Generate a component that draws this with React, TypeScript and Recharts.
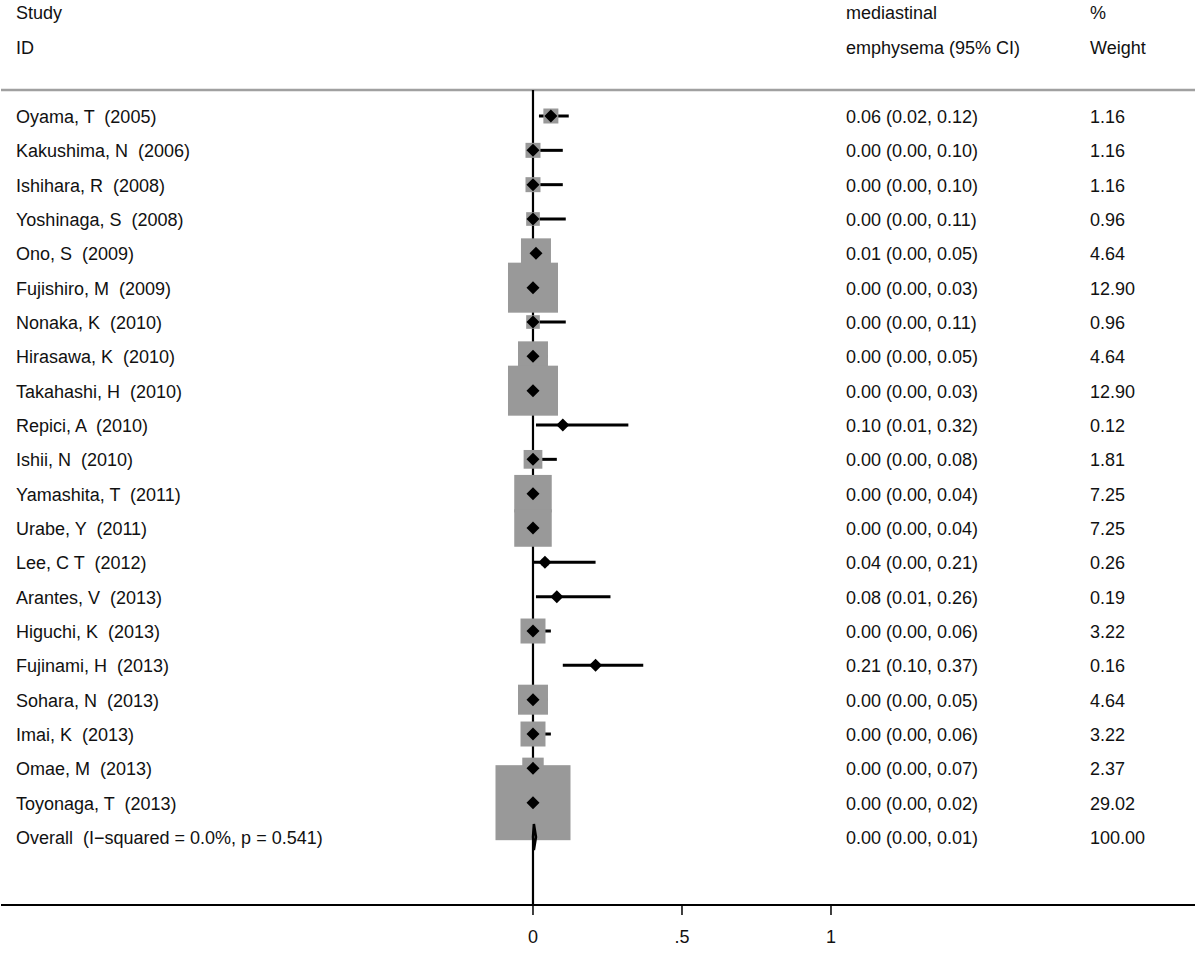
import React from 'react';
import {
  ComposedChart,
  Scatter,
  XAxis,
  YAxis,
  ZAxis,
  ErrorBar,
  ReferenceLine,
} from 'recharts';

// studies, top to bottom
const studies = [
  'Oyama, T  (2005)',
  'Kakushima, N  (2006)',
  'Ishihara, R  (2008)',
  'Yoshinaga, S  (2008)',
  'Ono, S  (2009)',
  'Fujishiro, M  (2009)',
  'Nonaka, K  (2010)',
  'Hirasawa, K  (2010)',
  'Takahashi, H  (2010)',
  'Repici, A  (2010)',
  'Ishii, N  (2010)',
  'Yamashita, T  (2011)',
  'Urabe, Y  (2011)',
  'Lee, C T  (2012)',
  'Arantes, V  (2013)',
  'Higuchi, K  (2013)',
  'Fujinami, H  (2013)',
  'Sohara, N  (2013)',
  'Imai, K  (2013)',
  'Omae, M  (2013)',
  'Toyonaga, T  (2013)',
];
const estimates = [0.06, 0.0, 0.0, 0.0, 0.01, 0.0, 0.0, 0.0, 0.0, 0.1, 0.0, 0.0, 0.0, 0.04, 0.08, 0.0, 0.21, 0.0, 0.0, 0.0, 0.0];
const lower = [0.02, 0.0, 0.0, 0.0, 0.0, 0.0, 0.0, 0.0, 0.0, 0.01, 0.0, 0.0, 0.0, 0.0, 0.01, 0.0, 0.1, 0.0, 0.0, 0.0, 0.0];
const upper = [0.12, 0.1, 0.1, 0.11, 0.05, 0.03, 0.11, 0.05, 0.03, 0.32, 0.08, 0.04, 0.04, 0.21, 0.26, 0.06, 0.37, 0.05, 0.06, 0.07, 0.02];
const weights = [1.16, 1.16, 1.16, 0.96, 4.64, 12.9, 0.96, 4.64, 12.9, 0.12, 1.81, 7.25, 7.25, 0.26, 0.19, 3.22, 0.16, 4.64, 3.22, 2.37, 29.02];

const overallLabel = 'Overall  (I\u2212squared = 0.0%, p = 0.541)';
const overallEst = 0.003;
const overallLo = 0.0;
const overallHi = 0.01;
const overallWeight = 100.0;

const xTicks = [0, 0.5, 1];
const xTickLabels = ['0', '.5', '1'];

// layout
const W = 1200;
const H = 955;
const X_DOMAIN: [number, number] = [-1.7852, 2.2215];
const ROW_TOP = 0.2427;
const ROW_BOTTOM = 23.98;
const DIAMOND_HALF = 0.38;
const FONT = '"Liberation Sans", Arial, sans-serif';
const FS = 18;
const COL_STUDY = 16;
const COL_CI = 846;
const COL_W = 1090;

const studyRows = studies.map((s, i) => ({
  label: s,
  row: i + 1,
  x: estimates[i],
  weight: weights[i],
  ci: [estimates[i] - lower[i], upper[i] - estimates[i]],
  ciText: `${estimates[i].toFixed(2)} (${lower[i].toFixed(2)}, ${upper[i].toFixed(2)})`,
  wText: weights[i].toFixed(2),
}));

const overallRow = studies.length + 1;
const rowTexts = [
  ...studyRows.map((d) => ({ row: d.row, label: d.label, ciText: d.ciText, wText: d.wText })),
  {
    row: overallRow,
    label: overallLabel,
    ciText: `${overallEst.toFixed(2)} (${overallLo.toFixed(2)}, ${overallHi.toFixed(2)})`,
    wText: overallWeight.toFixed(2),
  },
];

const nullLine = [
  { x: 0, row: ROW_TOP },
  { x: 0, row: ROW_BOTTOM },
];

const overallDiamond = [
  { x: overallLo, row: overallRow },
  { x: overallEst, row: overallRow - DIAMOND_HALF },
  { x: overallHi, row: overallRow },
  { x: overallEst, row: overallRow + DIAMOND_HALF },
  { x: overallLo, row: overallRow },
];

const txt = { fontFamily: FONT, fontSize: FS, fill: '#111', whiteSpace: 'pre' as const };

function RowTick(props: any) {
  const { y, payload } = props;
  const r = rowTexts.find((d) => d.row === payload.value);
  if (!r) return <g />;
  const by = y + 7;
  return (
    <g>
      <text x={COL_STUDY} y={by} style={txt}>{r.label}</text>
      <text x={COL_CI} y={by} style={txt}>{r.ciText}</text>
      <text x={COL_W} y={by} style={txt}>{r.wText}</text>
    </g>
  );
}

function XTick(props: any) {
  const { x, y, payload } = props;
  const i = xTicks.indexOf(payload.value);
  return (
    <text x={x} y={y + 28} textAnchor="middle" style={txt}>
      {xTickLabels[i]}
    </text>
  );
}

const Box = (props: any) => {
  const { cx, cy, size } = props;
  const s = Math.sqrt(Math.max(size || 0, 0));
  return <rect x={cx - s / 2} y={cy - s / 2} width={s} height={s} fill="#999999" />;
};

const Diamond = (props: any) => {
  const { cx, cy } = props;
  const h = 6.5;
  return <polygon points={`${cx - h},${cy} ${cx},${cy - h} ${cx + h},${cy} ${cx},${cy + h}`} fill="#000" />;
};

const Nothing = () => <g />;

export default function App() {
  return (
    <div style={{ position: 'absolute', left: 0, top: 0, width: W, height: H, background: '#fff' }}>
      <ComposedChart width={W} height={H} margin={{ top: 90, right: 5, bottom: 0, left: 0 }}>
        <XAxis
          type="number"
          dataKey="x"
          domain={X_DOMAIN}
          allowDataOverflow
          ticks={xTicks}
          interval={0}
          height={50}
          tickSize={10}
          tickMargin={0}
          axisLine={{ stroke: '#000', strokeWidth: 2 }}
          tickLine={{ stroke: '#000', strokeWidth: 1.5 }}
          tick={<XTick />}
        />
        <YAxis
          type="number"
          dataKey="row"
          domain={[ROW_TOP, ROW_BOTTOM]}
          allowDataOverflow
          reversed
          ticks={rowTexts.map((d) => d.row)}
          interval={0}
          width={1}
          axisLine={false}
          tickLine={false}
          tick={<RowTick />}
        />
        <ZAxis zAxisId="w" type="number" dataKey="weight" domain={[0, 29.02]} range={[0, 5625]} />
        <ReferenceLine y={ROW_TOP} stroke="#a0a0a0" strokeWidth={2.5} />

        <Scatter
          data={nullLine}
          line={{ stroke: '#000', strokeWidth: 2.2 }}
          shape={<Nothing />}
          isAnimationActive={false}
        />
        <Scatter data={studyRows} zAxisId="w" shape={<Box />} isAnimationActive={false} />
        <Scatter data={studyRows} shape={<Diamond />} isAnimationActive={false}>
          <ErrorBar dataKey="ci" direction="x" width={0} stroke="#000" strokeWidth={3} isAnimationActive={false} />
        </Scatter>
        <Scatter
          data={overallDiamond}
          line={{ stroke: '#000', strokeWidth: 2.5 }}
          shape={<Nothing />}
          isAnimationActive={false}
        />

        <text x={COL_STUDY} y={19} style={txt}>Study</text>
        <text x={COL_STUDY} y={54} style={txt}>ID</text>
        <text x={COL_CI} y={19} style={txt}>mediastinal</text>
        <text x={COL_CI} y={54} style={txt}>emphysema (95% CI)</text>
        <text x={COL_W} y={19} style={txt}>%</text>
        <text x={COL_W} y={54} style={txt}>Weight</text>
      </ComposedChart>
    </div>
  );
}
